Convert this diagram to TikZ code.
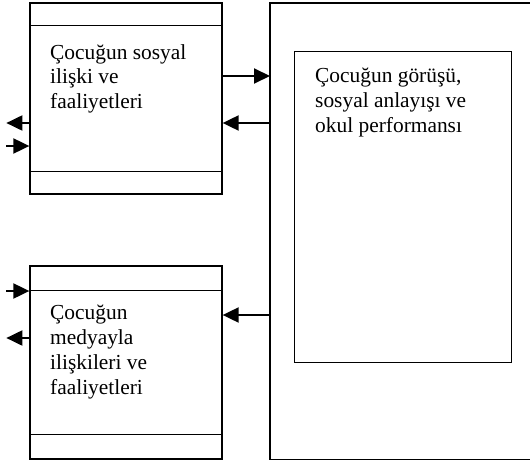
\documentclass[tikz,border=0pt]{standalone}
\usepackage{fontspec}
\setmainfont{Liberation Serif}
\usetikzlibrary{arrows.meta, positioning}

\begin{document}
\begin{tikzpicture}[x=1pt, y=-1pt,
boxnode/.style={rectangle, draw=black, line width=1.3pt, inner sep=0pt},
textnode/.style={inner sep=0pt, align=left, anchor=north west, font=\fontsize{21.4pt}{24.8pt}\selectfont},
arrowline/.style={line width=2pt, -{Triangle[length=16pt, width=15pt]}},
]
\useasboundingbox (0,0) rectangle (530,463);
%Nodes
\node[boxnode, minimum width=192pt, minimum height=191pt] (Sosyal) at (126,98.5) {};
\node[boxnode, minimum width=192pt, minimum height=193pt] (Medya) at (126,362.5) {};
\node[boxnode, draw=none, minimum width=260pt, minimum height=455pt, anchor=north west] (Cevre) at (270,3) {};
\node[boxnode, minimum width=217pt, minimum height=311pt, anchor=north west] (Gorus) at (294,51) {};
%Texts
\node[textnode] (SosyalText) at (50,44) {Çocuğun sosyal\\ilişki ve\\faaliyetleri};
\node[textnode] (MedyaText) at (50,305) {Çocuğun\\medyayla\\ilişkileri ve\\faaliyetleri};
\node[textnode] (GorusText) at (315,68) {Çocuğun görüşü,\\sosyal anlayışı ve\\okul performansı};
%Right box runs off the page
\draw[line width=1.3pt] (Cevre.north east) -- (Cevre.north west) -- (Cevre.south west) -- (Cevre.south east);
%Dividers
\draw[line width=1.3pt] ([yshift=-23pt]Sosyal.north west) -- ([yshift=-23pt]Sosyal.north east);
\draw[line width=1.3pt] ([yshift=23pt]Sosyal.south west) -- ([yshift=23pt]Sosyal.south east);
\draw[line width=1.3pt] ([yshift=-25pt]Medya.north west) -- ([yshift=-25pt]Medya.north east);
\draw[line width=1.3pt] ([yshift=25pt]Medya.south west) -- ([yshift=25pt]Medya.south east);
%Arrow ends
\coordinate (S1) at ([yshift=22.5pt]Sosyal.east);
\coordinate (S2) at ([yshift=-24.5pt]Sosyal.east);
\coordinate (S3) at ([yshift=-24.5pt]Sosyal.west);
\coordinate (S4) at ([yshift=-47.5pt]Sosyal.west);
\coordinate (S3out) at ([xshift=-23pt]S3);
\coordinate (S4out) at ([xshift=-23pt]S4);
\coordinate (M1) at ([yshift=71.5pt]Medya.west);
\coordinate (M2) at ([yshift=24.5pt]Medya.west);
\coordinate (M3) at ([yshift=47.5pt]Medya.east);
\coordinate (M1out) at ([xshift=-23pt]M1);
\coordinate (M2out) at ([xshift=-23pt]M2);
\path[arrowline]
	(S1) edge (S1 -| Cevre.west)
	(S2 -| Cevre.west) edge (S2)
	(S3) edge (S3out)
	(S4out) edge (S4)
	(M1out) edge (M1)
	(M2) edge (M2out)
	(M3 -| Cevre.west) edge (M3);

\end{tikzpicture}
\end{document}
